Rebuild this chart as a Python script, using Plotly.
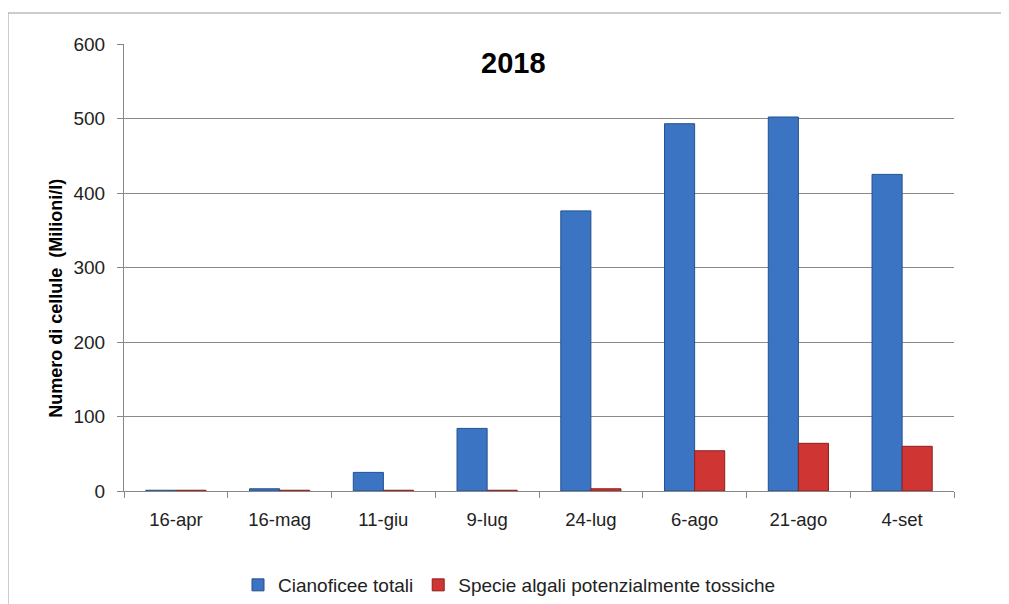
import plotly.graph_objects as go

categories = ["16-apr", "16-mag", "11-giu", "9-lug", "24-lug", "6-ago", "21-ago", "4-set"]
cianoficee = [1, 3, 25, 84, 376, 493, 502, 425]
tossiche = [1, 1, 1, 1, 3, 54, 64, 60]

fig = go.Figure()
fig.add_trace(go.Bar(x=categories, y=cianoficee, name="Cianoficee totali",
                     marker=dict(color="#3A74C2", line=dict(color="#24508F", width=1))))
fig.add_trace(go.Bar(x=categories, y=tossiche, name="Specie algali potenzialmente tossiche",
                     marker=dict(color="#CF3532", line=dict(color="#8E1F1D", width=1))))

W, H = 1009, 604
L, T, pw, ph = 116, 36, 830, 447
R, B = W - L - pw, H - T - ph

fig.update_layout(
    width=W, height=H,
    paper_bgcolor="white", plot_bgcolor="white",
    margin=dict(l=L, r=R, t=T, b=B, autoexpand=False),
    barmode="group", bargap=0.42, bargroupgap=0,
    font=dict(family="Liberation Sans, Arial, sans-serif", size=15, color="#222"),
    showlegend=True,
    legend=dict(orientation="h", x=(230 - L) / pw, xanchor="left", y=-(577 - (T + ph)) / ph,
                yanchor="middle", font=dict(size=19, color="#222"), itemwidth=30,
                traceorder="normal"),
    annotations=[
        dict(text="<b>2018</b>", x=(505 - L) / pw, y=574, xref="paper", yref="y",
             showarrow=False, font=dict(size=29, color="black")),
        dict(text="<b>Numero di cellule&nbsp;&nbsp;(Milioni/l)</b>", textangle=-90,
             x=(48 - L) / pw, y=258, xref="paper", yref="y", xanchor="center", yanchor="middle",
             showarrow=False, font=dict(size=18, color="black")),
    ],
    shapes=[dict(type="rect", xref="paper", yref="paper",
                 x0=(0 - L) / pw, x1=(997 - L) / pw,
                 y0=-(630 - (T + ph)) / ph, y1=(T + ph - 5) / ph,
                 line=dict(color="#999", width=1), fillcolor="rgba(0,0,0,0)", layer="below")],
)
fig.update_xaxes(showline=True, linecolor="#888", linewidth=1, ticks="outside",
                 tickson="boundaries", ticklen=6, tickcolor="#888", automargin=False,
                 ticklabelstandoff=12, tickfont=dict(size=18.5, color="#222"))
fig.update_yaxes(range=[0, 600], dtick=100, showgrid=True, gridcolor="#8a8a8a", gridwidth=1,
                 showline=True, linecolor="#888", linewidth=1, ticks="outside", ticklen=6,
                 tickcolor="#888", tickfont=dict(size=19, color="#222"), zeroline=False,
                 automargin=False, ticklabelstandoff=8)

fig.write_html("out.html")
